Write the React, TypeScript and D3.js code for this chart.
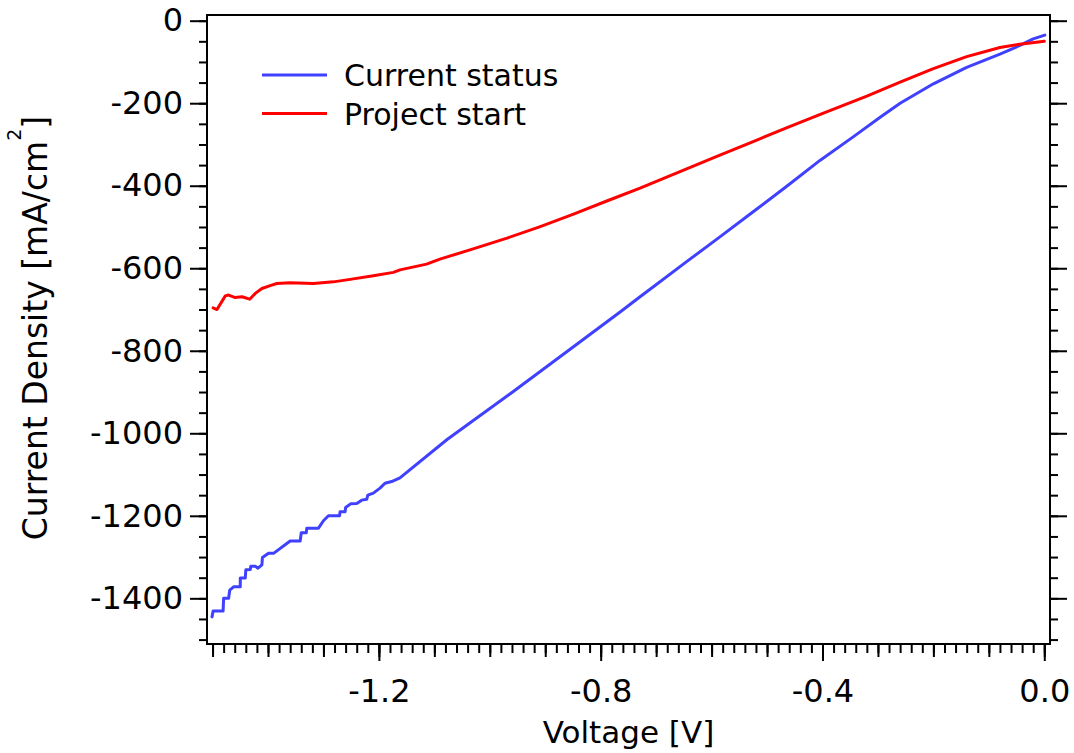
import React, { Component } from 'react';
import * as d3 from 'd3';

// [voltage (V), current density (mA/cm^2)]
const currentStatus = [
  [-1.501, -1445], [-1.499, -1431], [-1.481, -1431], [-1.480, -1400], [-1.471, -1400],
  [-1.469, -1380], [-1.462, -1372], [-1.450, -1372], [-1.450, -1351], [-1.441, -1351],
  [-1.440, -1331], [-1.432, -1330], [-1.431, -1322], [-1.423, -1322], [-1.418, -1327],
  [-1.411, -1319], [-1.410, -1301], [-1.399, -1291], [-1.390, -1291], [-1.360, -1261],
  [-1.342, -1261], [-1.340, -1241], [-1.331, -1241], [-1.330, -1230], [-1.309, -1230],
  [-1.300, -1212], [-1.291, -1200], [-1.271, -1200], [-1.270, -1190], [-1.261, -1190],
  [-1.260, -1180], [-1.251, -1171], [-1.240, -1170], [-1.231, -1162], [-1.222, -1160],
  [-1.220, -1150], [-1.210, -1145], [-1.198, -1133], [-1.189, -1121], [-1.177, -1117],
  [-1.162, -1108], [-1.077, -1015], [-0.957, -898], [-0.837, -778], [-0.762, -703],
  [-0.729, -669], [-0.705, -645], [-0.645, -584], [-0.585, -524], [-0.525, -463],
  [-0.465, -402], [-0.404, -338], [-0.344, -281], [-0.296, -234], [-0.260, -200],
  [-0.200, -153], [-0.140, -113], [-0.080, -81], [-0.044, -60], [-0.020, -44],
  [0.001, -35]
];

const projectStart = [
  [-1.499, -696], [-1.492, -700], [-1.477, -667], [-1.471, -665], [-1.459, -671],
  [-1.447, -669], [-1.433, -675], [-1.423, -661], [-1.411, -649], [-1.396, -642],
  [-1.384, -637], [-1.360, -635], [-1.318, -637], [-1.282, -633], [-1.252, -627],
  [-1.210, -618], [-1.174, -610], [-1.162, -604], [-1.114, -590], [-1.090, -578],
  [-1.030, -553], [-0.969, -527], [-0.909, -499], [-0.849, -469], [-0.789, -437],
  [-0.729, -406], [-0.645, -359], [-0.585, -326], [-0.525, -293], [-0.465, -260],
  [-0.404, -227], [-0.320, -183], [-0.260, -149], [-0.200, -116], [-0.140, -87],
  [-0.080, -65], [-0.044, -57], [0.000, -50]
];

const seriesNames = ['Current status', 'Project start'];
const seriesColors = ['#4040ff', '#ff0000'];

const yMajorTicks = [0, -200, -400, -600, -800, -1000, -1200, -1400];
const xMajorTicks = [-1.2, -0.8, -0.4, 0.0];

const FONT = '"DejaVu Sans", Verdana, sans-serif';

class JVPlot extends Component<any> {
  myRef: any;
  width: number;
  height: number;
  margin: any;

  constructor(props) {
    super(props);
    this.myRef = React.createRef();
    this.width = 1074;
    this.height = 753;
    this.margin = {top: 15, right: 24, bottom: 109, left: 207};
  }

  componentDidMount() {
    this.draw();
  }

  draw() {
    const root = d3.select(this.myRef.current);
    root.selectAll('*').remove();

    const w = this.width - this.margin.left - this.margin.right;
    const h = this.height - this.margin.top - this.margin.bottom;

    const svg = root.append('svg')
      .attr('width', this.width)
      .attr('height', this.height)
      .style('display', 'block')
      .append('g')
      .attr('transform', 'translate(' + this.margin.left + ',' + this.margin.top + ')');

    const x = d3.scaleLinear().domain([-1.51, 0.0103]).range([0, w]);
    const y = d3.scaleLinear().domain([-1510.7, 13.8]).range([h, 0]);

    // tick sets
    const yMinor = d3.range(0, 31).map(i => -i * 50);
    const xMinor = d3.range(0, 76).map(i => +(-1.5 + i * 0.02).toFixed(2));
    const xMid = d3.range(0, 16).map(i => +(-1.5 + i * 0.1).toFixed(1));

    const styleAxis = (g) => {
      g.selectAll('.tick line').attr('stroke', '#000').attr('stroke-width', 2);
      g.select('.domain').remove();
      g.selectAll('text').attr('fill', '#000').attr('font-family', FONT).attr('font-size', 32);
    };

    // left axis
    svg.append('g')
      .call(d3.axisLeft(y).tickValues(yMinor).tickSize(8).tickFormat(() => ''))
      .call(styleAxis);
    svg.append('g')
      .call(d3.axisLeft(y).tickValues(yMajorTicks).tickSize(17)
        .tickPadding(7).tickFormat(d => String(d)))
      .call(styleAxis);

    // right axis, ticks only
    svg.append('g')
      .attr('transform', 'translate(' + w + ',0)')
      .call(d3.axisRight(y).tickValues(yMinor).tickSize(8).tickFormat(() => ''))
      .call(styleAxis);
    svg.append('g')
      .attr('transform', 'translate(' + w + ',0)')
      .call(d3.axisRight(y).tickValues(yMajorTicks).tickSize(17).tickFormat(() => ''))
      .call(styleAxis);

    // bottom axis: 0.02 / 0.1 / 0.4 ticks
    svg.append('g')
      .attr('transform', 'translate(0,' + h + ')')
      .call(d3.axisBottom(x).tickValues(xMinor).tickSize(9).tickFormat(() => ''))
      .call(styleAxis);
    svg.append('g')
      .attr('transform', 'translate(0,' + h + ')')
      .call(d3.axisBottom(x).tickValues(xMid).tickSize(13).tickFormat(() => ''))
      .call(styleAxis);
    svg.append('g')
      .attr('transform', 'translate(0,' + h + ')')
      .call(d3.axisBottom(x).tickValues(xMajorTicks).tickSize(17)
        .tickPadding(18).tickFormat(d => (Math.abs(d) < 1e-9 ? 0 : d).toFixed(1)))
      .call(styleAxis);

    // frame
    svg.append('rect')
      .attr('x', 0)
      .attr('y', 0)
      .attr('width', w)
      .attr('height', h)
      .attr('fill', 'none')
      .attr('stroke', '#000')
      .attr('stroke-width', 2);

    // data lines
    const line = d3.line()
      .x(d => x(d[0]))
      .y(d => y(d[1]));

    [currentStatus, projectStart].forEach((data, i) => {
      svg.append('path')
        .datum(data)
        .attr('fill', 'none')
        .attr('stroke', seriesColors[i])
        .attr('stroke-width', 3)
        .attr('stroke-linecap', 'round')
        .attr('stroke-linejoin', 'round')
        .attr('d', line);
    });

    // legend
    const legend = svg.append('g')
      .attr('transform', 'translate(' + (262 - this.margin.left) + ',' + (75 - this.margin.top) + ')');
    seriesNames.forEach((name, i) => {
      legend.append('line')
        .attr('x1', 0)
        .attr('x2', 65)
        .attr('y1', i * 38.5)
        .attr('y2', i * 38.5)
        .attr('stroke', seriesColors[i])
        .attr('stroke-width', 3);
      legend.append('text')
        .attr('x', 82)
        .attr('y', i * 38.5 + 11)
        .attr('font-family', FONT)
        .attr('font-size', 30)
        .attr('fill', '#000')
        .text(name);
    });

    // axis titles
    svg.append('text')
      .attr('x', w / 2)
      .attr('y', 743 - this.margin.top)
      .attr('text-anchor', 'middle')
      .attr('font-family', FONT)
      .attr('font-size', 31)
      .attr('fill', '#000')
      .text('Voltage [V]');

    const yTitle = svg.append('text')
      .attr('transform', 'translate(' + (47 - this.margin.left) + ',' + (328 - this.margin.top) + ') rotate(-90)')
      .attr('text-anchor', 'middle')
      .attr('font-family', FONT)
      .attr('font-size', 33)
      .attr('fill', '#000');
    yTitle.append('tspan').text('Current Density [mA/cm');
    yTitle.append('tspan').attr('font-size', 19).attr('dy', -26).text('2');
    yTitle.append('tspan').attr('dy', 26).text(']');
  }

  render() {
    return (
      <div ref={this.myRef}
           style={{position: 'absolute', left: 0, top: 0,
                   width: this.width, height: this.height}}>
      </div>
    );
  }
}

export default function App() {
  return <JVPlot />;
}
